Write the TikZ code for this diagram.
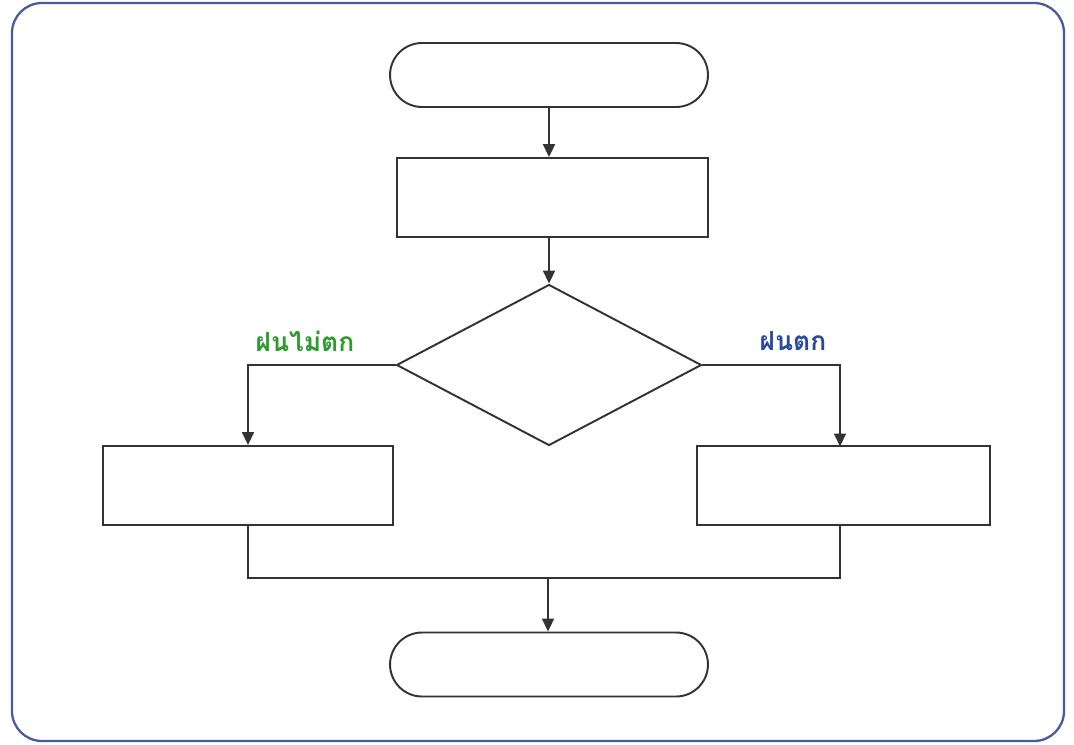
\documentclass[tikz,border=0pt]{standalone}
\usepackage{fontspec}
\newfontfamily\thaifont[Script=Thai]{Loma}
\usetikzlibrary{shapes.geometric,arrows.meta}
\definecolor{frameblue}{HTML}{4A5A9E}
\definecolor{yesgreen}{HTML}{2E9B2E}
\definecolor{noblue}{HTML}{2B4A9C}
\begin{document}
\begin{tikzpicture}[x=0.02cm, y=-0.02cm,
		line width=1.1pt, draw=black!80,
		>={Triangle[length=2.6mm, width=2.4mm]},
		term/.style={draw, rounded corners=0.64cm, minimum width=6.36cm, minimum height=1.28cm, inner sep=0pt},
		proc/.style={draw, rectangle, minimum height=1.58cm, inner sep=0pt},
		label/.style={font=\thaifont\bfseries\fontsize{15}{17}\selectfont}]
			\useasboundingbox (0,0) rectangle (1074,744);
			% frame
			\draw[frameblue, line width=1.3pt, rounded corners=0.6cm] (12,3) rectangle (1064,741);
			% boxes
			\node[term] (start) at (549,75) {};
			\node[proc, minimum width=6.22cm] (work) at (552.5,197.5) {};
			\node[draw, diamond, minimum width=6.1cm, minimum height=3.22cm, inner sep=0pt] (rain) at (549,365) {};
			\node[proc, minimum width=5.8cm] (dry) at (248,485.5) {};
			\node[proc, minimum width=5.86cm] (wet) at (843.5,485.5) {};
			\node[term] (stop) at (549,664.5) {};
			\coordinate (join) at (548,578);
			\coordinate (wetin) at (840,446.5);
			\coordinate (wetout) at (840,525.5);
			% connectors
			\draw[->] (start) -- (start |- work.north);
			\draw[->] (rain |- work.south) -- (rain.north);
			\draw[->] (rain.west) -| (dry.north);
			\draw[->] (rain.east) -| (wetin);
			\draw (dry.south) |- (join) -| (wetout);
			\draw[->] (join) -- (join |- stop.north);
			% labels
			\node[label, text=yesgreen] (nolabel) at (305,341) {ฝนไม่ตก};
			\node[label, text=noblue] (yeslabel) at (793,341) {ฝนตก};
		\end{tikzpicture}
\end{document}
